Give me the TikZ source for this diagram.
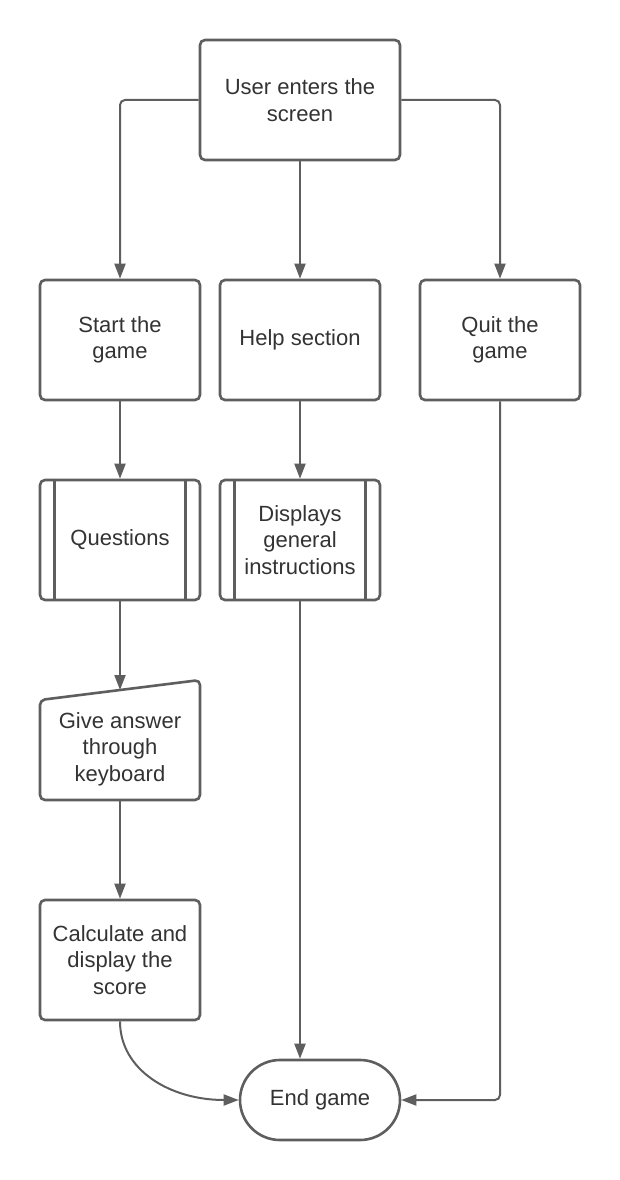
\documentclass[tikz,border=0pt]{standalone}
\usepackage{fontspec}
\setmainfont{Liberation Sans}
\usetikzlibrary{arrows.meta}
\definecolor{linec}{HTML}{5E5E5E}
\definecolor{textc}{HTML}{333333}
\tikzset{
  box/.style={draw=linec, line width=2.6pt, rounded corners=5pt, minimum width=160pt, minimum height=120pt, inner sep=0pt, align=center, text=textc, font=\fontsize{22pt}{26.5pt}\selectfont},
  txt/.style={inner sep=0pt, align=center, text=textc, font=\fontsize{22pt}{26.5pt}\selectfont},
  conn/.style={draw=linec, line width=2pt, -{Triangle[length=15pt,width=11pt]}, rounded corners=5pt},
  shapeline/.style={draw=linec, line width=2.6pt, rounded corners=5pt, line join=round}
}
\begin{document}
\begin{tikzpicture}[x=1pt,y=-1pt]
\useasboundingbox[fill=white] (0,0) rectangle (620,1180);
% nodes
\node[box, minimum width=200pt] (user) at (300,100) {User enters the\\screen};
\node[box] (start) at (120,340) {Start the\\game};
\node[box] (help) at (300,340) {Help section};
\node[box] (quit) at (500,340) {Quit the\\game};
\node[box] (quest) at (120,540) {Questions};
\node[box] (disp) at (300,540) {Displays\\general\\instructions};
\draw[linec, line width=2.6pt] ([xshift=16pt]quest.north west) -- ([xshift=16pt]quest.south west);
\draw[linec, line width=2.6pt] ([xshift=-16pt]quest.north east) -- ([xshift=-16pt]quest.south east);
\draw[linec, line width=2.6pt] ([xshift=16pt]disp.north west) -- ([xshift=16pt]disp.south west);
\draw[linec, line width=2.6pt] ([xshift=-16pt]disp.north east) -- ([xshift=-16pt]disp.south east);
% manual input shape
\draw[shapeline] (40,700) -- (200,680) -- (200,800) -- (40,800) -- cycle;
\node[txt] (give) at (120,749) {Give answer\\through\\keyboard};
\coordinate (giveTop) at (120,690);
\coordinate (giveBot) at (120,800);
\node[box] (calc) at (120,960) {Calculate and\\display the\\score};
\node[box, minimum height=80pt, rounded corners=40pt] (end) at (320,1100) {End game};
% connectors
\draw[conn] (user.west) -| (start.north);
\draw[conn] (user.south) -- (help.north);
\draw[conn] (user.east) -| (quit.north);
\draw[conn] (start.south) -- (quest.north);
\draw[conn] (help.south) -- (disp.north);
\draw[conn] (quest.south) -- (giveTop);
\draw[conn] (giveBot) -- (calc.north);
\draw[conn] (disp.south) -- (disp.south |- end.north);
\draw[conn] (quit.south) |- (end.east);
\draw[conn] (calc.south) .. controls (120,1070) and (170,1100) .. (end.west);
\end{tikzpicture}
\end{document}
